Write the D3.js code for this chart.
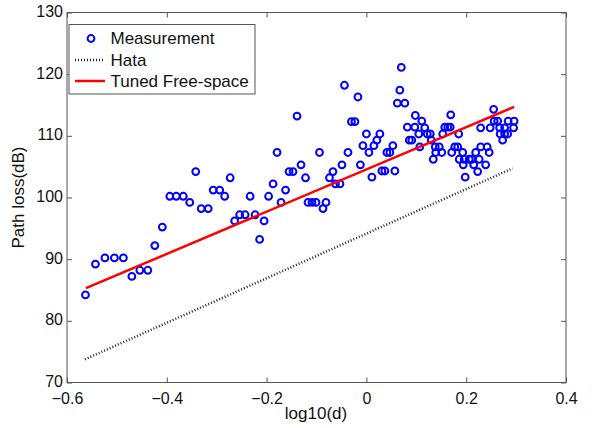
<!DOCTYPE html>
<html>
<head>
<meta charset="utf-8">
<script src="https://cdn.jsdelivr.net/npm/d3@7/dist/d3.min.js"></script>
<style>
  html, body { margin: 0; padding: 0; background: #fff; }
  text { font-family: "Liberation Sans", Arial, Helvetica, sans-serif; }
</style>
</head>
<body>
<div id="chart"></div>
<script>
// ---- Data ----
const xTicks = [-0.6, -0.4, -0.2, 0, 0.2, 0.4];
const yTicks = [70, 80, 90, 100, 110, 120, 130];
const xTickLabels = ["-0.6", "-0.4", "-0.2", "0", "0.2", "0.4"];
const yTickLabels = ["70", "80", "90", "100", "110", "120", "130"];

const measX = [
  -0.563, -0.543, -0.524, -0.505, -0.487, -0.470, -0.454, -0.438, -0.424, -0.409,
  -0.394, -0.381, -0.367, -0.354, -0.342, -0.331, -0.317, -0.307, -0.294, -0.284,
  -0.273, -0.264, -0.254, -0.243, -0.233, -0.223, -0.214, -0.205, -0.196, -0.187,
  -0.179, -0.171, -0.162, -0.155, -0.147, -0.139, -0.131, -0.122, -0.117, -0.109,
  -0.101, -0.094, -0.087, -0.081, -0.074, -0.067, -0.062, -0.053, -0.049, -0.044,
  -0.037, -0.030, -0.023, -0.017, -0.012, -0.007, 0.000, 0.005, 0.011, 0.015,
  0.021, 0.027, 0.031, 0.037, 0.041, 0.047, 0.053, 0.057, 0.062, 0.067,
  0.070, 0.077, 0.082, 0.086, 0.091, 0.097, 0.098, 0.107, 0.111, 0.117,
  0.105, 0.122, 0.128, 0.130, 0.138, 0.146, 0.139, 0.151, 0.134, 0.153,
  0.157, 0.163, 0.168, 0.169, 0.185, 0.177, 0.183, 0.171, 0.193, 0.186,
  0.196, 0.194, 0.198, 0.206, 0.211, 0.215, 0.219, 0.223, 0.226, 0.229,
  0.242, 0.246, 0.239, 0.229, 0.248, 0.255, 0.256, 0.263, 0.267, 0.277,
  0.268, 0.277, 0.283, 0.273, 0.284, 0.296, 0.295
];
const measY = [
  84.2, 89.2, 90.2, 90.2, 90.2, 87.2, 88.2, 88.2, 92.2, 95.2,
  100.2, 100.2, 100.2, 99.2, 104.2, 98.2, 98.2, 101.2, 101.2, 100.2,
  103.2, 96.2, 97.2, 97.2, 100.2, 97.2, 93.2, 96.2, 100.2, 102.2,
  107.3, 99.2, 101.2, 104.2, 104.2, 113.2, 105.3, 103.2, 99.2, 99.2,
  99.2, 107.3, 98.2, 99.2, 103.2, 104.2, 102.2, 102.2, 105.3, 118.2,
  107.3, 112.3, 112.3, 116.3, 105.3, 108.4, 110.3, 107.3, 103.3, 108.4,
  109.3, 110.3, 104.3, 104.3, 107.3, 107.3, 108.4, 104.3, 115.3, 117.4,
  121.1, 115.3, 111.4, 109.3, 109.3, 111.4, 113.3, 108.2, 112.4, 111.3,
  110.3, 110.3, 110.3, 109.3, 108.2, 108.2, 107.3, 107.3, 106.2, 110.3,
  111.4, 111.4, 111.4, 113.4, 110.3, 108.2, 108.2, 107.3, 107.3, 106.2,
  106.2, 105.3, 103.3, 106.2, 106.2, 105.3, 107.3, 104.2, 106.2, 108.2,
  108.2, 107.3, 105.3, 111.3, 111.3, 114.3, 112.4, 112.4, 111.3, 111.3,
  110.3, 110.3, 110.3, 109.3, 112.4, 112.4, 111.3
];

const hataX = [-0.564, 0.293];
const hataY = [73.76, 104.73];
const fsX = [-0.562, 0.296];
const fsY = [85.3, 114.7];

const legendLabels = ["Measurement", "Hata", "Tuned Free-space"];

// ---- Layout ----
const W = 593, H = 428;
const m = { left: 67, top: 12.5, right: 27, bottom: 45.5 };
const iw = W - m.left - m.right;
const ih = H - m.top - m.bottom;
const fs = "17px";
const tfs = "16px";

const svg = d3.select("#chart").append("svg")
  .attr("width", W).attr("height", H)
  .style("background", "#fff");

const x = d3.scaleLinear().domain([-0.6, 0.4]).range([m.left, m.left + iw]);
const y = d3.scaleLinear().domain([70, 130]).range([m.top + ih, m.top]);

const axisColor = "#555";
const tickLen = 5;

const xAxis = d3.axisBottom(x).tickValues(xTicks)
  .tickFormat((d, i) => xTickLabels[i]).tickSizeInner(-tickLen).tickSizeOuter(0).tickPadding(10);
const yAxis = d3.axisLeft(y).tickValues(yTicks)
  .tickFormat((d, i) => yTickLabels[i]).tickSizeInner(-tickLen).tickSizeOuter(0).tickPadding(4);
const xAxisTop = d3.axisTop(x).tickValues(xTicks).tickFormat("").tickSizeInner(-tickLen).tickSizeOuter(0);
const yAxisRight = d3.axisRight(y).tickValues(yTicks).tickFormat("").tickSizeInner(-tickLen).tickSizeOuter(0);

function styleAxis(g) {
  g.select(".domain").remove();
  g.selectAll(".tick line").attr("stroke", axisColor);
  g.selectAll(".tick text").attr("fill", "#111").style("font-size", tfs)
    .style("font-family", "'Liberation Sans', Arial, sans-serif");
}

svg.append("g").attr("transform", `translate(0,${m.top + ih})`).call(xAxis).call(styleAxis);
const gy = svg.append("g").attr("transform", `translate(${m.left},0)`).call(yAxis).call(styleAxis);
svg.append("g").attr("transform", `translate(0,${m.top})`).call(xAxisTop).call(styleAxis);
svg.append("g").attr("transform", `translate(${m.left + iw},0)`).call(yAxisRight).call(styleAxis);
gy.selectAll(".tick text").attr("dy", "0.25em");

svg.selectAll(".tick text").each(function () {
  const t = d3.select(this).text();
  if (t.startsWith("-")) d3.select(this).text("\u2212" + t.slice(1));
});

svg.append("rect")
  .attr("x", m.left).attr("y", m.top).attr("width", iw).attr("height", ih)
  .attr("fill", "none").attr("stroke", axisColor).attr("stroke-width", 1);

const line = d3.line().x(d => x(d[0])).y(d => y(d[1]));
const hataData = hataX.map((v, i) => [v, hataY[i]]);
const fsData = fsX.map((v, i) => [v, fsY[i]]);

svg.append("path").datum(hataData).attr("d", line)
  .attr("fill", "none").attr("stroke", "#222").attr("stroke-width", 2.5)
  .attr("stroke-dasharray", "1,2");

const pts = measX.map((v, i) => [v, measY[i]]);
svg.append("g").selectAll("circle").data(pts).join("circle")
  .attr("cx", d => x(d[0])).attr("cy", d => y(d[1])).attr("r", 3.4)
  .attr("fill", "none").attr("stroke", "#0000ff").attr("stroke-width", 2);

svg.append("path").datum(fsData).attr("d", line)
  .attr("fill", "none").attr("stroke", "#ff0000").attr("stroke-width", 2.5);

svg.append("text").attr("x", 316).attr("y", 419).attr("text-anchor", "middle")
  .style("font-size", fs).attr("fill", "#111").text("log10(d)");
svg.append("text").attr("transform", `translate(24,${m.top + ih / 2}) rotate(-90)`)
  .attr("text-anchor", "middle").style("font-size", fs).attr("fill", "#111")
  .text("Path loss(dB)");

const lg = svg.append("g");
lg.append("rect").attr("x", 69).attr("y", 24.5).attr("width", 186).attr("height", 69.5)
  .attr("fill", "#fff").attr("stroke", axisColor).attr("stroke-width", 1);
const rowsY = [38.5, 60, 81];
lg.append("circle").attr("cx", 91).attr("cy", rowsY[0]).attr("r", 3.4)
  .attr("fill", "none").attr("stroke", "#0000ff").attr("stroke-width", 2);
lg.append("line").attr("x1", 75).attr("x2", 105).attr("y1", rowsY[1]).attr("y2", rowsY[1])
  .attr("stroke", "#222").attr("stroke-width", 2.5).attr("stroke-dasharray", "1,2");
lg.append("line").attr("x1", 75).attr("x2", 105).attr("y1", rowsY[2]).attr("y2", rowsY[2])
  .attr("stroke", "#ff0000").attr("stroke-width", 2.5);
legendLabels.forEach((t, i) => {
  lg.append("text").attr("x", 110.5).attr("y", rowsY[i]).attr("dy", "0.35em")
    .style("font-size", fs).attr("fill", "#111").text(t);
});
</script>
</body>
</html>
